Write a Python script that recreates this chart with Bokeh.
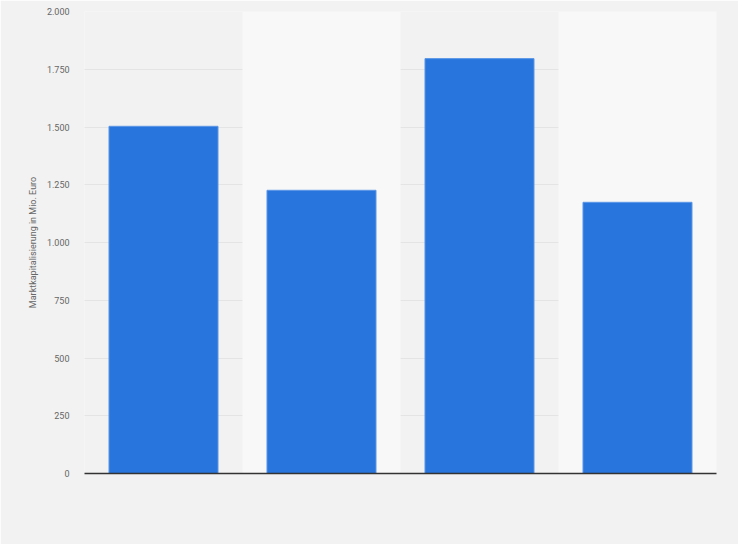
from bokeh.plotting import figure
from bokeh.embed import file_html
from bokeh.resources import INLINE
from bokeh.models import FixedTicker, CustomJSTickFormatter

# data
positions = [1, 2, 3, 4]
market_cap = [1503, 1226, 1796, 1174]
y_ticks = [0, 250, 500, 750, 1000, 1250, 1500, 1750, 2000]
y_tick_labels = ["0", "250", "500", "750", "1.000", "1.250", "1.500", "1.750", "2.000"]
band_positions = [2, 4]

p = figure(width=738, height=544, output_backend="svg", toolbar_location=None,
           x_range=(0.5, 4.5), y_range=(0, 2000),
           min_border_left=84, min_border_right=22, min_border_top=11, min_border_bottom=71)

p.background_fill_color = "#f2f2f2"
p.border_fill_color = "#f2f2f2"
p.outline_line_color = None

# alternating column bands
p.vbar(x=band_positions, width=1.0, top=2000, bottom=0,
       fill_color="#f8f8f8", line_color=None)

p.vbar(x=positions, width=0.69, top=market_cap, bottom=0,
       fill_color="#2876dd", line_color="#5d97e6", line_width=1)

p.xgrid.grid_line_color = None
p.ygrid.ticker = FixedTicker(ticks=y_ticks)
p.ygrid.grid_line_color = "#d6d6d6"
p.ygrid.grid_line_dash = "1 1"
p.ygrid.grid_line_width = 1

p.yaxis.ticker = FixedTicker(ticks=y_ticks)
p.yaxis.formatter = CustomJSTickFormatter(
    args=dict(labels=dict(zip([str(t) for t in y_ticks], y_tick_labels))),
    code="return labels[String(tick)] || String(tick);")
p.yaxis.axis_line_color = None
p.yaxis.major_tick_line_color = None
p.yaxis.minor_tick_line_color = None
p.yaxis.major_label_text_font = "Roboto"
p.yaxis.major_label_text_font_size = "9px"
p.yaxis.major_label_text_color = "#666666"
p.yaxis.major_label_standoff = 9
p.yaxis.axis_label = "Marktkapitalisierung in Mio. Euro"
p.yaxis.axis_label_text_font = "Roboto"
p.yaxis.axis_label_text_font_size = "9px"
p.yaxis.axis_label_text_font_style = "normal"
p.yaxis.axis_label_text_color = "#666666"
p.yaxis.axis_label_standoff = 6

p.xaxis.ticker = FixedTicker(ticks=[])
p.xaxis.major_label_text_font_size = "0px"
p.xaxis.axis_line_color = "#333333"
p.xaxis.axis_line_width = 1.5
p.xaxis.major_tick_line_color = None
p.xaxis.minor_tick_line_color = None

open("out.html", "w").write(file_html(p, INLINE))
